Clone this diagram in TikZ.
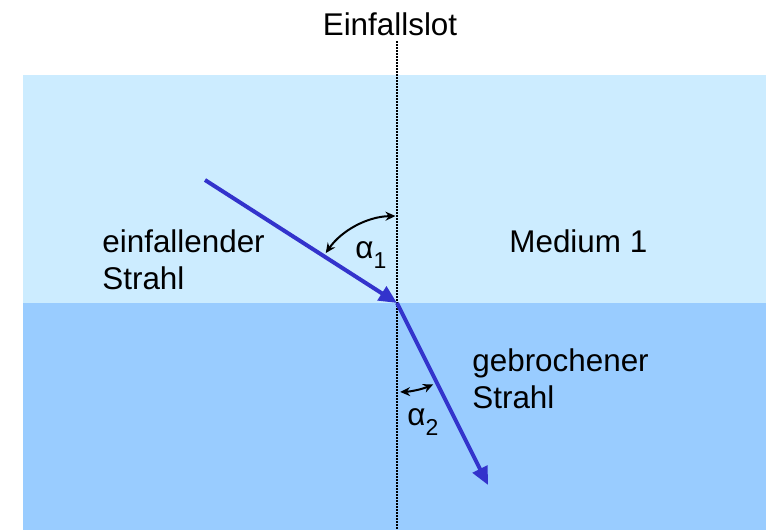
\documentclass[tikz,border=0pt]{standalone}
\usepackage{fontspec}
\setmainfont{Liberation Sans}
\usetikzlibrary{arrows.meta}

\definecolor{medium1}{RGB}{204,236,255}
\definecolor{medium2}{RGB}{153,204,255}
\definecolor{raycol}{RGB}{51,51,204}
\newcommand{\anglesub}[1]{\raisebox{-5pt}{\fontsize{11.5}{13}\selectfont #1}}

\begin{document}
\begin{tikzpicture}[
		x=0.5pt, y=-0.5pt,
		lbl/.style={
			anchor=base west,
			inner sep=0pt,
			align=left,
			font=\fontsize{15.7}{18.25}\selectfont
		},
		ray/.style={draw=raycol, line width=2pt, -{Triangle[length=9pt,width=8pt]}},
		anglearc/.style={line width=1pt, {Stealth[length=5pt,width=4.5pt]}-{Stealth[length=5pt,width=4.5pt]}},
		lot/.style={line width=0.75pt, dash pattern=on 0.75pt off 0.75pt}
		]
		\useasboundingbox (0,0) rectangle (766,530);
		
		% Media
		\fill[medium1] (23,75) rectangle (766,303);
		\fill[medium2] (23,303) rectangle (766,530);
		
		% Points
		\coordinate (lottop) at (397,41);
		\coordinate (lotbottom) at (397,530);
		\coordinate (hit) at (397,303);
		\coordinate (source) at (205,180);
		\coordinate (target) at (488,485);
		
		% Normal
		\draw[lot] (lottop) -- (lotbottom);
		\node[lbl, anchor=base] (einfallslot) at (390,35) {Einfallslot};
		
		% Rays
		\draw[ray] (source) -- (hit);
		\draw[ray] (hit) -- (target);
		
		% Angles
		\draw[anglearc] (hit) ++(-145:87) arc[start angle=-145, end angle=-91, radius=87];
		\draw[anglearc] (hit) ++(88:89) arc[start angle=88, end angle=66, radius=89];
		\node[lbl] (alpha1) at (355,258) {α\anglesub{1}};
		\node[lbl] (alpha2) at (407,425) {α\anglesub{2}};
		
		% Labels (base = last line)
		\node[lbl] (einfallend) at (102,289) {einfallender\\Strahl};
		\node[lbl] (medium) at (509,252) {Medium 1};
		\node[lbl] (gebrochen) at (472,408) {gebrochener\\Strahl};
		
	\end{tikzpicture}
\end{document}
